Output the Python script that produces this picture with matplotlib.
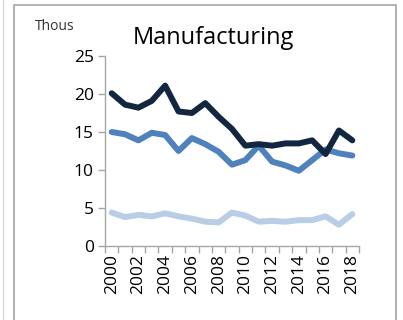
import matplotlib
matplotlib.use("Agg")
import matplotlib.pyplot as plt
from matplotlib.patches import Rectangle
from matplotlib.lines import Line2D

plt.rcParams['font.family'] = ['Open Sans', 'DejaVu Sans']

years = [str(y) for y in range(2000, 2019)]
dark = [20.1, 18.6, 18.2, 19.1, 21.1, 17.7, 17.5, 18.8, 17.0, 15.4, 13.2, 13.4, 13.2, 13.5, 13.5, 13.9, 12.1, 15.2, 13.9]
medium = [15.0, 14.7, 13.9, 14.9, 14.6, 12.5, 14.2, 13.4, 12.4, 10.7, 11.3, 13.2, 11.1, 10.6, 9.9, 11.3, 12.7, 12.2, 11.9]
light = [4.4, 3.8, 4.1, 3.9, 4.3, 3.9, 3.6, 3.2, 3.1, 4.4, 4.0, 3.2, 3.3, 3.2, 3.4, 3.4, 3.9, 2.8, 4.2]
yticks = [0, 5, 10, 15, 20, 25]

W, H = 403, 320
fig = plt.figure(figsize=(W/100, H/100), dpi=100)

# chart area border
fig.add_artist(Rectangle((14/W, -0.05), (396-14)/W, (320-5)/H + 0.05, transform=fig.transFigure,
                         fill=False, edgecolor='#a6a6a6', linewidth=1.2))
fig.add_artist(Line2D([3/W, 3/W], [0, 1], transform=fig.transFigure, color='#d9d9d9', linewidth=1))

ax = fig.add_axes([105/W, (320-246)/H, (359-105)/W, (246-56)/H])
x = list(range(len(years)))
ax.plot(x, light, color='#b9cde5', linewidth=4.3, solid_joinstyle='round', solid_capstyle='round')
ax.plot(x, medium, color='#4f81bd', linewidth=4.3, solid_joinstyle='round', solid_capstyle='round')
ax.plot(x, dark, color='#13263f', linewidth=4.3, solid_joinstyle='round', solid_capstyle='round')

ax.set_xlim(-0.5, len(years) - 0.5)
ax.set_ylim(0, 25)
ax.set_yticks(yticks)
ax.set_yticklabels([str(v) for v in yticks], fontsize=12.5)
ax.set_xticks([i for i in range(0, len(years), 2)])
ax.set_xticklabels(years[::2], rotation=90, fontsize=12.5)
ax.tick_params(axis='x', length=0, pad=6)
ax.set_xticks([i - 0.5 for i in range(len(years) + 1)], minor=True)
ax.tick_params(axis='x', which='minor', length=5, color='#a6a6a6', width=1)
ax.tick_params(axis='y', length=5, color='#a6a6a6', width=1, pad=3)

for s in ['top', 'right']:
    ax.spines[s].set_visible(False)
for s in ['left', 'bottom']:
    ax.spines[s].set_color('#a6a6a6')
    ax.spines[s].set_linewidth(1)

fig.text(213/W, 1 - 38/H, 'Manufacturing', fontsize=17, ha='center', va='center', color='black')
fig.text(35/W, 1 - 27/H, 'Thous', fontsize=10, ha='left', va='center', color='#333333')

fig.savefig('out.png', dpi=100)
